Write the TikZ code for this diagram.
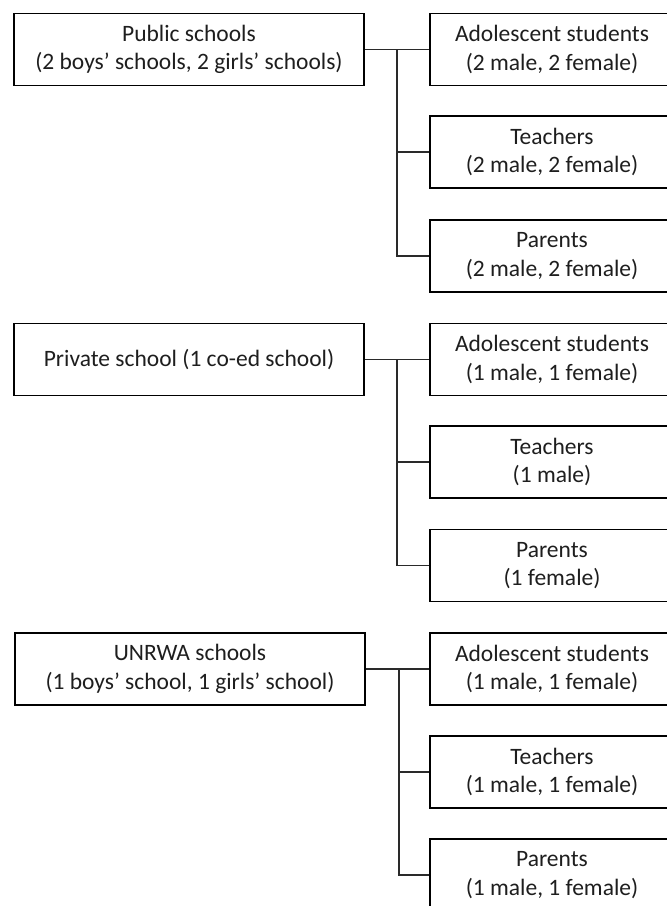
\documentclass[tikz,border=0pt]{standalone}
\usepackage{fontspec}
\setmainfont{Carlito}
\definecolor{txt}{HTML}{1E1E1E}
\definecolor{ln}{HTML}{2A2A2A}
\begin{document}
\begin{tikzpicture}[x=1pt,y=-1pt,
  lbox/.style={draw=black,line width=1.5pt,minimum width=350pt,minimum height=72pt,inner sep=0pt,align=center,text=txt,font=\fontsize{23.5}{28.5}\selectfont},
  rbox/.style={draw=black,line width=1.5pt,minimum width=244pt,minimum height=72pt,inner sep=0pt,align=center,text=txt,font=\fontsize{23.5}{28.5}\selectfont},
  conn/.style={draw=ln,line width=1.2pt}]
\useasboundingbox (0,0) rectangle (667,906);
\clip (0,0) rectangle (667,906);
% Section 1
\node[lbox] (pub) at (189,49.5) {Public schools\\(2 boys’ schools, 2 girls’ schools)};
\node[rbox] (a1) at (552,49.5) {Adolescent students\\(2 male, 2 female)};
\node[rbox] (t1) at (552,152) {Teachers\\(2 male, 2 female)};
\node[rbox] (p1) at (552,256) {Parents\\(2 male, 2 female)};
\coordinate (j1) at (397,49.5);
\draw[conn] (pub.east) -- (a1.west);
\draw[conn] (j1) |- (t1.west);
\draw[conn] (j1) |- (p1.west);
% Section 2
\node[lbox] (pri) at (189,359.5) {Private school (1 co-ed school)};
\node[rbox] (a2) at (552,359.5) {Adolescent students\\(1 male, 1 female)};
\node[rbox] (t2) at (552,462) {Teachers\\(1 male)};
\node[rbox] (p2) at (552,565.5) {Parents\\(1 female)};
\coordinate (j2) at (397,359.5);
\draw[conn] (pri.east) -- (a2.west);
\draw[conn] (j2) |- (t2.west);
\draw[conn] (j2) |- (p2.west);
% Section 3
\node[lbox] (unr) at (190,669) {UNRWA schools\\(1 boys’ school, 1 girls’ school)};
\node[rbox] (a3) at (552,669) {Adolescent students\\(1 male, 1 female)};
\node[rbox] (t3) at (552,772) {Teachers\\(1 male, 1 female)};
\node[rbox] (p3) at (552,875) {Parents\\(1 male, 1 female)};
\coordinate (j3) at (399,669);
\draw[conn] (unr.east) -- (a3.west);
\draw[conn] (j3) |- (t3.west);
\draw[conn] (j3) |- (p3.west);
\end{tikzpicture}
\end{document}
